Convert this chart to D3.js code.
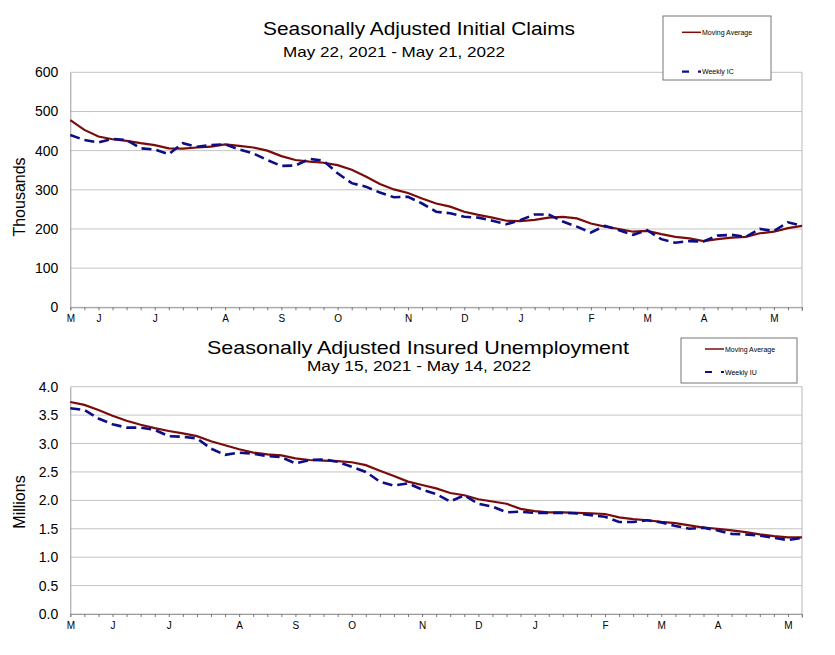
<!DOCTYPE html>
<html>
<head>
<meta charset="utf-8">
<script src="https://d3js.org/d3.v7.min.js"></script>
<style>
  body { margin: 0; background: #fff; }
  text { font-family: "Liberation Sans", Arial, sans-serif; fill: #000; }
</style>
</head>
<body>
<script>
// ---- data ----
// Initial claims, thousands, weeks ending May 22, 2021 .. May 21, 2022
const icStart = "2021-05-22";
const icWeekly = [440, 427, 421, 430, 427, 406, 403, 391, 419, 410, 414, 416, 403, 393, 376, 361,
  362, 379, 374, 342, 317, 308, 293, 281, 282, 265, 244, 240, 231, 229, 221, 212, 223, 237, 237,
  219, 206, 191, 208, 197, 185, 197, 174, 165, 169, 168, 183, 185, 180, 200, 195, 217, 208];
const icAvg = [478, 453, 436, 429, 425, 419, 414, 406, 405, 408, 410, 416, 412, 408, 400, 386,
  376, 372, 369, 363, 351, 334, 315, 301, 292, 278, 265, 257, 244, 236, 229, 221, 220, 223, 229,
  231, 227, 214, 206, 200, 193, 195, 187, 180, 176, 169, 174, 178, 180, 189, 193, 202, 208];
const icTicks = [0, 100, 200, 300, 400, 500, 600];

// Insured unemployment, millions, weeks ending May 15, 2021 .. May 14, 2022
const iuStart = "2021-05-15";
const iuWeekly = [3.62, 3.59, 3.44, 3.34, 3.28, 3.28, 3.24, 3.13, 3.12, 3.09, 2.91, 2.80, 2.84,
  2.82, 2.78, 2.76, 2.65, 2.71, 2.72, 2.68, 2.59, 2.50, 2.33, 2.26, 2.30, 2.19, 2.11, 1.98, 2.09,
  1.94, 1.89, 1.79, 1.80, 1.78, 1.78, 1.78, 1.77, 1.74, 1.71, 1.62, 1.62, 1.65, 1.61, 1.55, 1.50,
  1.52, 1.47, 1.41, 1.40, 1.38, 1.34, 1.30, 1.34];
const iuAvg = [3.73, 3.68, 3.59, 3.49, 3.40, 3.33, 3.27, 3.22, 3.18, 3.13, 3.04, 2.97, 2.90,
  2.84, 2.81, 2.79, 2.74, 2.71, 2.70, 2.69, 2.67, 2.62, 2.52, 2.43, 2.33, 2.27, 2.21, 2.13, 2.09,
  2.02, 1.98, 1.94, 1.85, 1.81, 1.79, 1.79, 1.78, 1.77, 1.76, 1.70, 1.67, 1.65, 1.62, 1.60, 1.56,
  1.52, 1.50, 1.47, 1.44, 1.40, 1.37, 1.35, 1.35];
const iuTicks = [0, 0.5, 1, 1.5, 2, 2.5, 3, 3.5, 4];

const monthLetters = ["J", "F", "M", "A", "M", "J", "J", "A", "S", "O", "N", "D"];

const W = 835, H = 655;
const svg = d3.select("body").append("svg").attr("width", W).attr("height", H);

const parse = d3.timeParse("%Y-%m-%d");

function drawPanel(opt) {
  const start = parse(opt.start);
  const dates = opt.weekly.map((d, i) => d3.timeDay.offset(start, 7 * i));

  const x = d3.scaleTime()
    .domain([dates[0], dates[dates.length - 1]])
    .range([70.3, 802]);
  const y = d3.scaleLinear()
    .domain([0, opt.max])
    .range([opt.bottom, opt.top]);

  const g = svg.append("g");

  // gridlines
  g.selectAll(".grid")
    .data(opt.ticks)
    .enter().append("line")
    .attr("x1", x.range()[0]).attr("x2", x.range()[1])
    .attr("y1", d => y(d)).attr("y2", d => y(d))
    .attr("stroke", "#c4c4c4").attr("stroke-width", 1);

  // right frame
  g.append("line")
    .attr("x1", x.range()[1]).attr("x2", x.range()[1])
    .attr("y1", opt.top).attr("y2", opt.bottom + 4)
    .attr("stroke", "#b8b8b8");

  // y axis
  const yAxis = g.append("g")
    .attr("transform", `translate(${x.range()[0]},0)`)
    .call(d3.axisLeft(y).tickValues(opt.ticks).tickFormat(opt.fmt).tickSize(0).tickPadding(12));
  yAxis.select(".domain").attr("stroke", "#9a9a9a");
  yAxis.selectAll("text").attr("font-size", 14).attr("font-family", "Liberation Sans, Arial");

  // x axis: weekly ticks, month letters on first week of each month
  const xAxis = g.append("g")
    .attr("transform", `translate(0,${opt.bottom})`)
    .call(d3.axisBottom(x).tickValues(dates).tickSize(3).tickPadding(5)
      .tickFormat((d, i) => (i === 0 || d.getDate() <= 7) ? monthLetters[d.getMonth()] : ""));
  xAxis.select(".domain").attr("stroke", "#9a9a9a");
  xAxis.selectAll(".tick line").attr("stroke", "#777");
  xAxis.selectAll("text").attr("font-size", 10).attr("font-family", "Liberation Sans, Arial");

  // series
  const line = d3.line().x((d, i) => x(dates[i])).y(d => y(d));
  g.append("path").datum(opt.avg)
    .attr("d", line).attr("fill", "none")
    .attr("stroke", "#7a0c0c").attr("stroke-width", 2.2);
  g.append("path").datum(opt.weekly)
    .attr("d", line).attr("fill", "none")
    .attr("stroke", "#0d0d85").attr("stroke-width", 2.6)
    .attr("stroke-dasharray", "10,5");

  // y label
  svg.append("text")
    .attr("transform", `translate(25,${opt.labelY}) rotate(-90)`)
    .attr("text-anchor", "middle")
    .attr("font-size", 16)
    .text(opt.yLabel);

  // titles (reference text is a bit stretched, so fit it to the measured width)
  svg.append("text")
    .attr("x", opt.titleX).attr("y", opt.titleY)
    .attr("text-anchor", "middle").attr("font-size", opt.titleSize)
    .attr("textLength", opt.titleLen).attr("lengthAdjust", "spacingAndGlyphs")
    .text(opt.title);
  svg.append("text")
    .attr("x", opt.subX).attr("y", opt.subY)
    .attr("text-anchor", "middle").attr("font-size", 15)
    .attr("textLength", opt.subLen).attr("lengthAdjust", "spacingAndGlyphs")
    .text(opt.subtitle);

  // legend
  const lg = svg.append("g").attr("transform", `translate(${opt.legend[0]},${opt.legend[1]})`);
  lg.append("rect")
    .attr("width", opt.legend[2]).attr("height", opt.legend[3])
    .attr("fill", "#fff").attr("stroke", "#777").attr("stroke-width", 1);
  const items = [
    { name: "Moving Average", color: "#7a0c0c", dash: null, w: 1.5, y: opt.legend[4] },
    { name: opt.weeklyName, color: "#0d0d85", dash: "7,9", w: 2.2, y: opt.legend[5] }
  ];
  items.forEach(it => {
    lg.append("line")
      .attr("x1", opt.legend[6]).attr("x2", opt.legend[6] + 19)
      .attr("y1", it.y).attr("y2", it.y)
      .attr("stroke", it.color).attr("stroke-width", it.w)
      .attr("stroke-dasharray", it.dash);
    lg.append("text")
      .attr("x", opt.legend[6] + 20).attr("y", it.y + 2.5)
      .attr("font-size", 7).attr("fill", "#333")
      .text(it.name);
  });
}

drawPanel({
  start: icStart, weekly: icWeekly, avg: icAvg, ticks: icTicks, max: 600,
  fmt: d3.format("d"), top: 72.3, bottom: 307.3,
  yLabel: "Thousands", labelY: 197,
  title: "Seasonally Adjusted Initial Claims", titleX: 419, titleY: 35, titleSize: 18, titleLen: 312,
  subtitle: "May 22, 2021 - May 21, 2022", subX: 394, subY: 57, subLen: 222,
  weeklyName: "Weekly IC",
  legend: [663, 16, 108, 64, 16.3, 55.7, 19]
});

drawPanel({
  start: iuStart, weekly: iuWeekly, avg: iuAvg, ticks: iuTicks, max: 4,
  fmt: d3.format(".1f"), top: 386.7, bottom: 614,
  yLabel: "Millions", labelY: 502,
  title: "Seasonally Adjusted Insured Unemployment", titleX: 418, titleY: 354, titleSize: 19, titleLen: 422,
  subtitle: "May 15, 2021 - May 14, 2022", subX: 419, subY: 371, subLen: 224,
  weeklyName: "Weekly IU",
  legend: [681, 338, 116, 45, 11, 34, 24]
});
</script>
</body>
</html>
